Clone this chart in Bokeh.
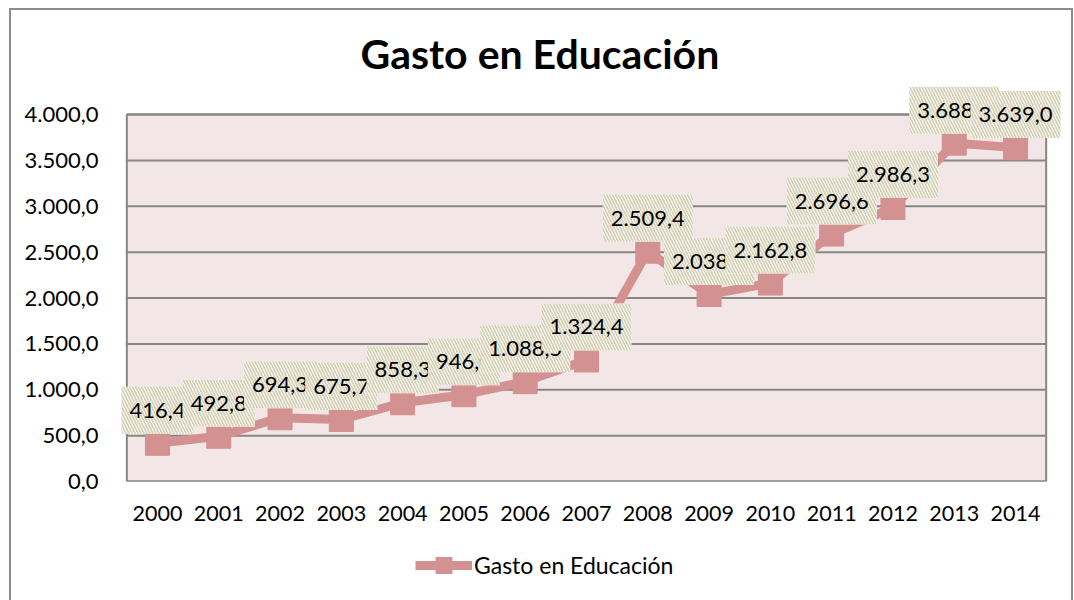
from bokeh.plotting import figure
from bokeh.layouts import column
from bokeh.models import (ColumnDataSource, Legend, LegendItem, CustomJSTickFormatter,
                          FixedTicker, FactorRange, Range1d, BoxAnnotation)
from bokeh.core.properties import value
from bokeh.embed import file_html
from bokeh.resources import INLINE

years = ["2000", "2001", "2002", "2003", "2004", "2005", "2006", "2007",
         "2008", "2009", "2010", "2011", "2012", "2013", "2014"]
gasto = [416.4, 492.8, 694.3, 675.7, 858.3, 946.0, 1088.5, 1324.4,
         2509.4, 2038.1, 2162.8, 2696.6, 2986.3, 3688.0, 3639.0]
labels = ["416,4", "492,8", "694,3", "675,7", "858,3", "946,0", "1.088,5", "1.324,4",
          "2.509,4", "2.038,1", "2.162,8", "2.696,6", "2.986,3", "3.688,0", "3.639,0"]
y_ticks = [0, 500, 1000, 1500, 2000, 2500, 3000, 3500, 4000]
series_name = "Gasto en Educación"

FONT = "Lato"
LINE_COLOR = "#D49191"
PLOT_BG = "#F2E6E6"
GRID = "#868686"
Y_MAX = y_ticks[-1]
N = len(years)
PAD = 0.25

src = ColumnDataSource(dict(year=years, val=gasto, lab=labels))

# frame slightly larger than the pink plot area so that data labels are not clipped
x_range = FactorRange(factors=years, range_padding=PAD, range_padding_units="absolute")
y_range = Range1d(0, Y_MAX * (481 - 86) / 367)

p = figure(x_range=x_range, y_range=y_range, width=1074, height=530,
           output_backend="svg", toolbar_location=None,
           min_border_left=111, min_border_right=13, min_border_top=86,
           min_border_bottom=49)

p.title.text = series_name
p.title.text_font = FONT
p.title.text_font_size = "41px"
p.title.text_font_style = "bold"
p.title.text_color = "#000000"
p.title.align = "left"
p.title.offset = 249
p.title.standoff = 17

p.border_fill_alpha = 0
p.background_fill_alpha = 0
p.outline_line_color = None

# pink plot area
p.add_layout(BoxAnnotation(left=0, right=N, bottom=0, top=Y_MAX, fill_color=PLOT_BG,
                           fill_alpha=1, line_color=None, level="image"))

# horizontal gridlines limited to the plot area
p.xgrid.grid_line_color = None
p.ygrid.grid_line_color = None
grid_src = ColumnDataSource(dict(x0=[0] * len(y_ticks), x1=[N] * len(y_ticks), y=y_ticks))
p.segment(x0="x0", x1="x1", y0="y", y1="y", source=grid_src, line_color=GRID,
          line_width=2, line_cap="butt", level="underlay")

# plot area border
p.add_layout(BoxAnnotation(left=0, right=N, bottom=0, top=Y_MAX, fill_color=None,
                           fill_alpha=0, line_color=GRID, line_width=2, line_alpha=1,
                           level="underlay"))

p.yaxis.ticker = FixedTicker(ticks=y_ticks)
p.yaxis.formatter = CustomJSTickFormatter(code="""
    const s = tick.toFixed(1).split('.');
    const int = s[0].replace(/\\B(?=(\\d{3})+(?!\\d))/g, '.');
    return int + ',' + s[1];
""")
for ax in (p.xaxis[0], p.yaxis[0]):
    ax.axis_line_color = None
    ax.major_tick_line_color = None
    ax.minor_tick_line_color = None
    ax.major_label_text_font = FONT
    ax.major_label_text_color = "#000000"
p.yaxis.major_label_text_font_size = "22px"
p.xaxis.major_label_text_font_size = "21.5px"
p.yaxis.major_label_standoff = 7
p.xaxis.major_label_standoff = 18

p.line("year", "val", source=src, line_color=LINE_COLOR, line_width=9)
p.scatter("year", "val", source=src, marker="square", size=24,
          fill_color=LINE_COLOR, line_color=LINE_COLOR)

p.text("year", "val", text="lab", source=src, y_offset=-33,
       text_font=value(FONT), text_font_size="22px", text_color="#000000",
       text_align="center", text_baseline="middle",
       background_fill_color="white",
       background_hatch_pattern="\\", background_hatch_color="#D6D2B8",
       background_hatch_scale=6, background_hatch_weight=1.8,
       padding=dict(left=8, right=8, top=16, bottom=16))

# legend strip below the chart (its renderers use the same data, kept out of view)
pl = figure(width=1074, height=70, x_range=x_range, y_range=Range1d(-2 * Y_MAX, -Y_MAX),
            output_backend="svg", toolbar_location=None,
            x_axis_type=None, y_axis_type=None,
            min_border_left=0, min_border_right=0, min_border_top=0, min_border_bottom=0)
pl.outline_line_color = None
pl.grid.grid_line_color = None
pl.border_fill_alpha = 0
pl.background_fill_alpha = 0
l2 = pl.line("year", "val", source=src, line_color=LINE_COLOR, line_width=9)
s2 = pl.scatter("year", "val", source=src, marker="square", size=18,
                fill_color=LINE_COLOR, line_color=LINE_COLOR)
legend = Legend(items=[LegendItem(label=series_name, renderers=[l2, s2])],
                location=(304, 15), orientation="horizontal",
                label_text_font=FONT, label_text_font_size="23px",
                label_text_color="#000000", label_height=20,
                glyph_width=57, glyph_height=40, border_line_color=None,
                background_fill_alpha=0, margin=0, padding=0, label_standoff=2)
pl.add_layout(legend)

G = "linear-gradient(#8C8C8C,#8C8C8C)"
layout = column(p, pl, spacing=0, styles={
    "background-image": f"{G}, {G}, {G}",
    "background-size": "2px 600px, 1063px 2px, 2px 600px",
    "background-position": "9px 8px, 9px 8px, 1071px 8px",
    "background-repeat": "no-repeat",
})

open("out.html", "w").write(file_html(layout, INLINE))
